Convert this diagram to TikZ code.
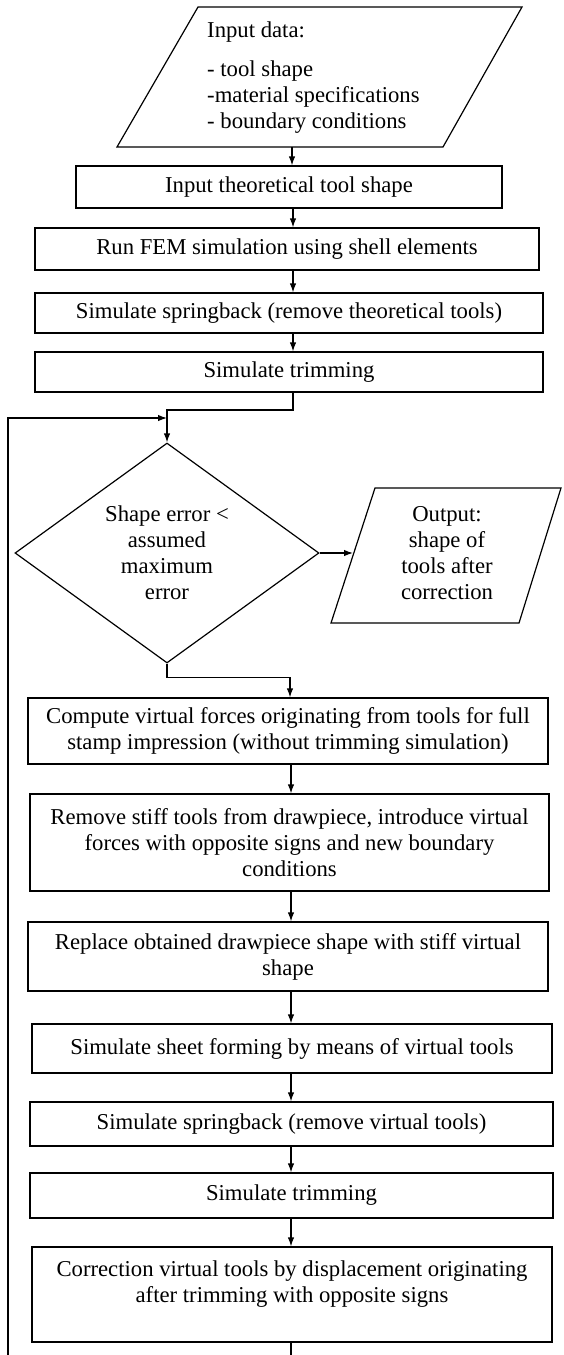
\documentclass[tikz,border=0pt]{standalone}
\usepackage{fontspec}
\setmainfont{Liberation Serif}
\usetikzlibrary{arrows.meta,shapes.geometric,calc}
\begin{document}
\begin{tikzpicture}[x=1pt,y=-1pt,
  lw/.style={line width=1.2pt},
  box/.style={draw, lw, inner sep=0pt, align=center, font=\fontsize{22.7}{26}\selectfont},
  txt/.style={inner sep=0pt, font=\fontsize{22.7}{26}\selectfont},
  arr/.style={lw, -{Latex[length=9pt,width=6.5pt]}}]
\useasboundingbox (0,0) rectangle (563,1355);
\fill[white] (0,0) rectangle (563,1355);
\clip (0,0) rectangle (563,1355);

% input parallelogram
\draw[lw] (198,7) -- (522,7) -- (443,147) -- (117,147) -- cycle;
\node[txt, align=left, anchor=north west] (inp) at (207,22)
  {Input data:\\[13pt]- tool shape\\-material specifications\\- boundary conditions};
\coordinate (inb) at (292,147);

\coordinate (ax) at (293,0);
\coordinate (bx) at (291,0);

\node[box, minimum width=426pt, minimum height=42pt] (b1) at (289,187) {Input theoretical tool shape};
\node[box, minimum width=504pt, minimum height=42pt] (b2) at (287,249) {Run FEM simulation using shell elements};
\node[box, minimum width=508pt, minimum height=40pt] (b3) at (289,313) {Simulate springback (remove theoretical tools)};
\node[box, minimum width=508pt, minimum height=40pt] (b4) at (289,372) {Simulate trimming};

\node[diamond, draw, lw, minimum width=304pt, minimum height=220pt, inner sep=0pt, align=center,
  font=\fontsize{22.7}{26}\selectfont] (d) at (167,553) {Shape error <\\assumed\\maximum\\error};

% output parallelogram
\draw[lw] (375,488) -- (561,488) -- (519,623) -- (331,623) -- cycle;
\node[txt, align=center] (out) at (447,553) {Output:\\shape of\\tools after\\correction};
\coordinate (oe) at (353,553);

\node[box, minimum width=520pt, minimum height=66pt] (b5) at (288,731)
  {Compute virtual forces originating from tools for full\\stamp impression (without trimming simulation)};
\node[box, minimum width=519pt, minimum height=97pt] (b6) at (289.5,842.5)
  {Remove stiff tools from drawpiece, introduce virtual\\forces with opposite signs and new boundary\\conditions};
\node[box, minimum width=520pt, minimum height=69pt] (b7) at (288,956.5)
  {Replace obtained drawpiece shape with stiff virtual\\shape};
\node[box, minimum width=520pt, minimum height=49pt] (b8) at (292,1048.5)
  {Simulate sheet forming by means of virtual tools};
\node[box, minimum width=523pt, minimum height=44pt] (b9) at (291.5,1124)
  {Simulate springback (remove virtual tools)};
\node[box, minimum width=523pt, minimum height=45pt] (b10) at (291.5,1195.5)
  {Simulate trimming};
\node[box, minimum width=520pt, minimum height=95pt] (b11) at (292,1294.5)
  {Correction virtual tools by displacement originating\\after trimming with opposite signs\\~};

% connectors
\draw[arr] (inb) -- (b1.north -| inb);
\draw[arr] (b1.south -| ax) -- (b2.north -| ax);
\draw[arr] (b2.south -| ax) -- (b3.north -| ax);
\draw[arr] (b3.south -| ax) -- (b4.north -| ax);
\coordinate (jn) at (167,410);
\draw[arr] (b4.south -| ax) |- (jn) -- (d.north);
\draw[arr] (d.east) -- (oe);
\coordinate (ax2) at (290,0);
\draw[arr] (d.south) -- ++(0,14) -| (b5.north -| ax2);
\draw[arr] (b5.south -| bx) -- (b6.north -| bx);
\draw[arr] (b6.south -| bx) -- (b7.north -| bx);
\draw[arr] (b7.south -| bx) -- (b8.north -| bx);
\draw[arr] (b8.south -| bx) -- (b9.north -| bx);
\draw[arr] (b9.south -| bx) -- (b10.north -| bx);
\draw[arr] (b10.south -| bx) -- (b11.north -| bx);
\coordinate (lp) at (8,418);
\coordinate (jl) at (167,418);
\draw[arr] (b11.south -| bx) -- ++(0,40) -| (lp) -- (jl);
\end{tikzpicture}
\end{document}
